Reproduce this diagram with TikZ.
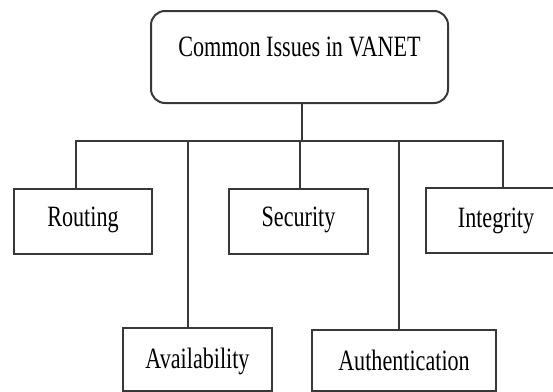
\documentclass[tikz,border=0pt]{standalone}
\usepackage{fontspec}
\setmainfont{Liberation Serif}
\usepackage{graphicx}
\newcommand{\narrowtext}[1]{\scalebox{0.75}[1]{#1}}
\tikzset{
  line/.style={draw=black!78, line width=2pt},
  issue/.style={line, rectangle, inner sep=0pt, anchor=north west,
    font=\fontsize{29.5}{29.5}\selectfont},
}
\begin{document}
\begin{tikzpicture}[x=1pt, y=-1pt]
  \clip (0,0) rectangle (553,391);

  % root box
  \node[issue, rounded corners=14pt, minimum width=297pt,
        text height=45pt, text depth=47pt] (top) at (150,10)
        {\narrowtext{Common Issues in VANET}};

  % first row
  \node[issue, minimum width=138pt, text height=37pt, text depth=28pt]
        (routing) at (13,188) {\narrowtext{Routing}};
  \node[issue, minimum width=139pt, text height=37pt, text depth=28pt]
        (security) at (228,188) {\narrowtext{Security}};
  \node[issue, minimum width=140pt, text height=39pt, text depth=26pt]
        (integrity) at (425,187) {\narrowtext{Integrity}};

  % second row
  \node[issue, minimum width=149pt, text height=40pt, text depth=23pt]
        (avail) at (122,327) {\narrowtext{Availability}};
  \node[issue, minimum width=184pt, text height=40pt, text depth=21pt]
        (auth) at (311,329) {\narrowtext{Authentication}};

  % bus line
  \coordinate (bus) at (0,141);
  \draw[line] ([xshift=2pt]top.south) -- ([xshift=2pt]top.south |- bus);
  \draw[line] ([xshift=-7pt]routing.north) -- ([xshift=-7pt]routing.north |- bus)
              -- ([xshift=7pt]integrity.north |- bus) -- ([xshift=7pt]integrity.north);
  \draw[line] ([xshift=-10pt]avail.north) -- ([xshift=-10pt]avail.north |- bus);
  \draw[line] ([xshift=1.5pt]security.north) -- ([xshift=1.5pt]security.north |- bus);
  \draw[line] ([xshift=-5.5pt]auth.north) -- ([xshift=-5.5pt]auth.north |- bus);
\end{tikzpicture}
\end{document}
